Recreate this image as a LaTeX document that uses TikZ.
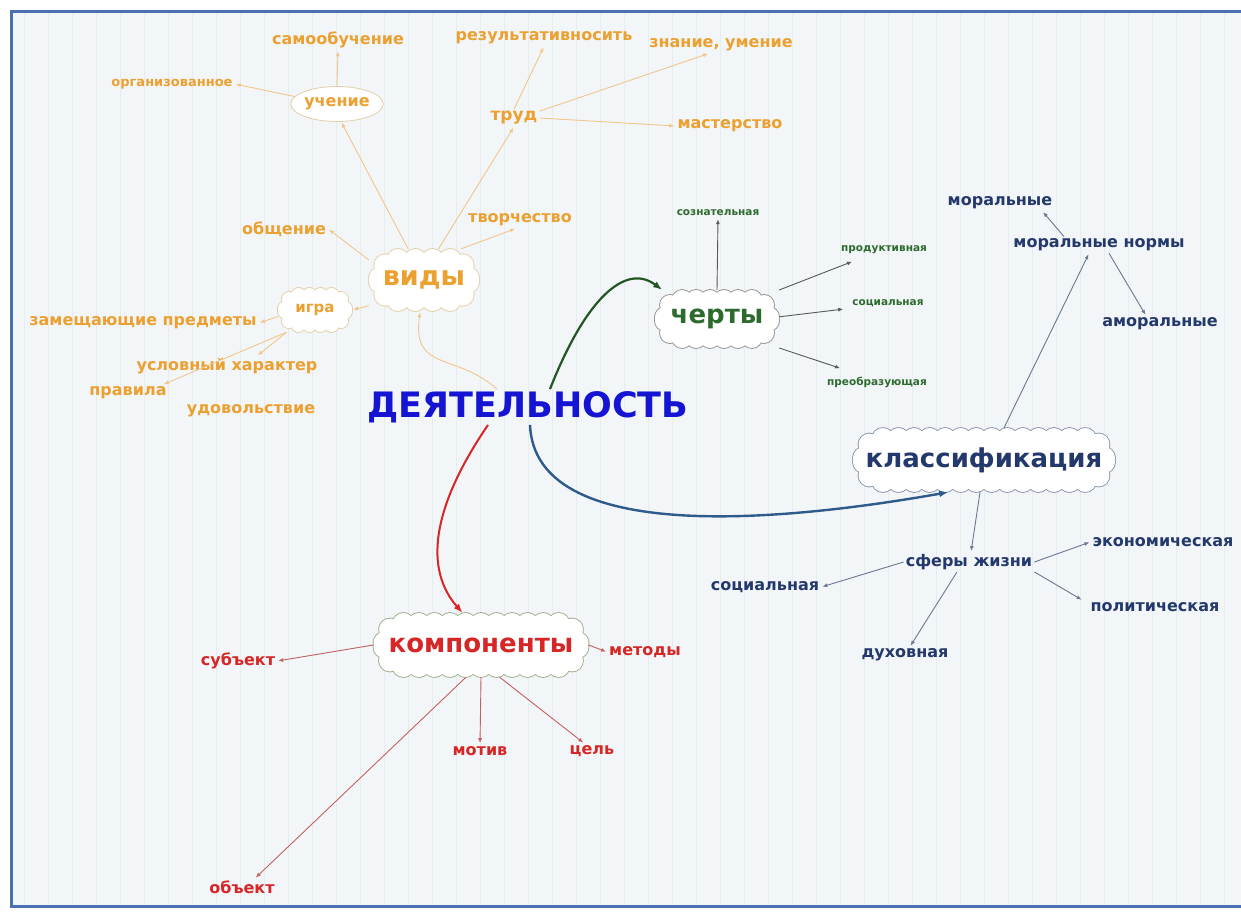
\documentclass[tikz,border=0pt]{standalone}
\usepackage{fontspec}
\setmainfont{DejaVu Sans}
\usetikzlibrary{shapes.geometric,arrows.meta}
\definecolor{bg}{HTML}{F3F6F8}
\definecolor{gridc}{HTML}{E6ECF0}
\definecolor{frame}{HTML}{4A72B0}
\definecolor{org}{HTML}{EBA030}
\definecolor{orgline}{HTML}{F2C58A}
\definecolor{orgcl}{HTML}{E2CFA6}
\definecolor{actc}{HTML}{1414D2}
\definecolor{grn}{HTML}{2D6A2D}
\definecolor{grnline}{HTML}{555A55}
\definecolor{nav}{HTML}{24396B}
\definecolor{navline}{HTML}{6A7890}
\definecolor{navcl}{HTML}{8A96AA}
\definecolor{rd}{HTML}{D62626}
\definecolor{rdline}{HTML}{C46060}
\definecolor{kompcl}{HTML}{9FAE8E}
\definecolor{bluearr}{HTML}{2E5A8C}
% one pass of puff circles along a rounded rectangle
\newcommand\scpass[1]{%
  \foreach \i in {0,...,\scnx}{%
    \pgfmathsetmacro\xx{-\sca+\scr+(2*\sca-2*\scr)*\i/\scnx}%
    \path[#1] (\xx,-\scb) circle (\scrad pt) (\xx,\scb) circle (\scrad pt);}%
  \foreach \j in {0,...,\scny}{%
    \pgfmathsetmacro\yy{-\scb+\scr+(2*\scb-2*\scr)*\j/\scny}%
    \path[#1] (-\sca,\yy) circle (\scrad pt) (\sca,\yy) circle (\scrad pt);}%
  \foreach \q/\sx/\sy in {0/1/1,90/-1/1,180/-1/-1,270/1/-1}{%
    \foreach \k in {1,...,\scnc}{%
      \pgfmathsetmacro\th{\q+90*\k/(\scnc+1)}%
      \pgfmathsetmacro\xx{\sx*(\sca-\scr)+\scr*cos(\th)}%
      \pgfmathsetmacro\yy{\sy*(\scb-\scr)+\scr*sin(\th)}%
      \path[#1] (\xx,\yy) circle (\scrad pt);}}%
}
% scalloped cloud: centre x, centre y, width, height, outline colour, puff radius
\newcommand\scloud[6]{%
 \begin{scope}[shift={(#1,#2)}]
  \pgfmathsetmacro\scrad{#6}%
  \pgfmathsetmacro\sca{#3/2-#6}%
  \pgfmathsetmacro\scb{#4/2-#6}%
  \pgfmathsetmacro\scr{0.9*\scb}%
  \pgfmathtruncatemacro\scnx{max(1,round((2*\sca-2*\scr)/(1.45*#6)))}%
  \pgfmathtruncatemacro\scny{max(1,round((2*\scb-2*\scr)/(1.45*#6)))}%
  \pgfmathtruncatemacro\scnc{max(1,round(1.5708*\scr/(1.45*#6))-1)}%
  \scpass{draw=#5, line width=1.8pt}%
  \scpass{fill=white}%
  \fill[white, rounded corners=\scr pt] (-\sca,-\scb) rectangle (\sca,\scb);
 \end{scope}}
\tikzset{
  cloudtext/.style={rectangle, inner sep=0pt},
  olbl/.style={text=org, font=\bfseries\fontsize{16}{18}\selectfont, inner sep=2pt},
  nlbl/.style={text=nav, font=\bfseries\fontsize{16}{18}\selectfont, inner sep=2pt},
  rlbl/.style={text=rd, font=\bfseries\fontsize{16}{18}\selectfont, inner sep=2pt},
  glbl/.style={text=grn, font=\bfseries\fontsize{10.5}{12}\selectfont, inner sep=2pt},
  tip/.style={-{Latex[length=5pt,width=4pt]}, line width=0.9pt, shorten >=1pt},
  oarr/.style={tip, draw=orgline},
  garr/.style={tip, draw=grnline},
  narr/.style={tip, draw=navline},
  rarr/.style={tip, draw=rdline},
  bigtip/.style={-{Latex[length=9pt,width=7pt]}},
}
\begin{document}
\begin{tikzpicture}[x=1pt,y=-1pt]
\useasboundingbox (0,0) rectangle (1241,912);
\fill[white] (0,0) rectangle (1241,912);
\fill[bg] (12,12) rectangle (1241,906);
\draw[gridc, line width=0.6pt, step=24] (12,12) grid (1241,906);
\draw[frame, line width=3pt] (1241,12) -- (11,12) -- (11,906) -- (1241,906);

% centre
\node[text=actc, font=\bfseries\fontsize{35}{40}\selectfont, inner sep=2pt] (act) at (528,407) {ДЕЯТЕЛЬНОСТЬ};

% ---- виды ----
\scloud{424}{280}{110}{62}{orgcl}{11}
\node[cloudtext, minimum width=110, minimum height=62, text=org, font=\bfseries\fontsize{27}{29}\selectfont] (vidy) at (424,280) {виды};
\scloud{315}{310}{74}{44}{orgcl}{7}
\node[cloudtext, minimum width=74, minimum height=44, text=org, font=\bfseries\fontsize{15}{17}\selectfont] (igra) at (315,310) {игра};
\node[ellipse, draw=orgcl, fill=white, line width=0.8pt, minimum width=87, minimum height=35, inner sep=0pt, text=org, font=\bfseries\fontsize{16}{18}\selectfont] (uch) at (337,104) {учение};
\node[olbl, font=\bfseries\fontsize{17}{19}\selectfont] (trud) at (514,118) {труд};
\node[olbl] (samo) at (338,40) {самообучение};
\node[olbl, font=\bfseries\fontsize{13}{15}\selectfont] (org) at (172,84) {организованное};
\node[olbl] (rez) at (544,38) {результативносить};
\node[olbl] (zn) at (721,45) {знание, умение};
\node[olbl] (mast) at (730,126) {мастерство};
\node[olbl] (obsh) at (284,229) {общение};
\node[olbl] (tvor) at (520,220) {творчество};
\node[olbl] (zam) at (143,323) {замещающие предметы};
\node[olbl] (usl) at (227,366) {условный характер};
\node[olbl] (prav) at (128,393) {правила};
\node[olbl] (udov) at (251,411) {удовольствие};

\draw[oarr] (vidy.117) -- (uch.283);
\draw[oarr] (uch.north) -- (samo.south);
\draw[oarr] (uch.170) -- (org.east);
\draw[oarr] (vidy.65) -- (trud.south);
\draw[oarr] (trud.north) -- (rez.south);
\draw[oarr] (trud.15) -- (zn.215);
\draw[oarr] (trud.east) -- (mast.west);
\draw[oarr] (vidy.160) -- (obsh.east);
\draw[oarr] (vidy.40) -- (tvor.245);
\draw[oarr] (vidy.205) -- (igra.east);
\draw[oarr] (igra.190) -- (zam.east);
\draw[oarr] (igra.218) -- ([xshift=30pt]usl.north);
\draw[oarr] (igra.218) -- ([xshift=-6pt]prav.north east);
\draw[oarr] ([xshift=-31pt]act.north) .. controls (455,352) and (412,372) .. (vidy.263);

% ---- черты ----
\scloud{717}{319}{124}{58}{gray!85}{10}
\node[cloudtext, minimum width=124, minimum height=58, text=grn, font=\bfseries\fontsize{26}{28}\selectfont] (cher) at (717,319) {черты};
\node[glbl] (soz) at (718,213) {сознательная};
\node[glbl] (prod) at (884,250) {продуктивная};
\node[glbl] (soc1) at (888,303) {социальная};
\node[glbl] (preo) at (877,382) {преобразующая};
\draw[garr] (cher.north) -- (soz.south);
\draw[garr] (cher.25) -- ([xshift=14pt,yshift=-5pt]prod.south west);
\draw[garr] (cher.2) -- ([xshift=-6pt,yshift=-6pt]soc1.west);
\draw[garr] (cher.335) -- ([xshift=16pt,yshift=6pt]preo.north west);
\draw[bigtip, draw=grn!80!black, line width=2.2pt] ([xshift=22pt]act.north) .. controls (585,300) and (625,262) .. (cher.152);

% ---- классификация ----
\scloud{984}{460}{262}{64}{navcl}{11}
\node[cloudtext, minimum width=262, minimum height=64, text=nav, font=\bfseries\fontsize{26}{28}\selectfont] (klass) at (984,460) {классификация};
\node[nlbl] (mn) at (1099,245) {моральные нормы};
\node[nlbl] (mor) at (1000,203) {моральные};
\node[nlbl] (amor) at (1160,324) {аморальные};
\node[nlbl] (sf) at (969,562) {сферы жизни};
\node[nlbl] (ek) at (1163,542) {экономическая};
\node[nlbl] (soc2) at (765,587) {социальная};
\node[nlbl] (pol) at (1155,607) {политическая};
\node[nlbl] (duh) at (905,655) {духовная};
\draw[narr] ([xshift=20pt]klass.north) -- ([xshift=-10pt]mn.south);
\draw[narr] ([xshift=-35pt]mn.north) -- ([xshift=-12pt]mor.south east);
\draw[narr] ([xshift=10pt]mn.south) -- ([xshift=-14pt]amor.north);
\draw[narr] ([xshift=-4pt]klass.south) -- ([xshift=2pt]sf.north);
\draw[narr] (sf.east) -- (ek.west);
\draw[narr] (sf.west) -- (soc2.east);
\draw[narr] (sf.south east) -- ([xshift=-6pt]pol.north west);
\draw[narr] ([xshift=-12pt]sf.south) -- ([xshift=5pt]duh.north);
\draw[bigtip, draw=bluearr, line width=2.4pt] ([xshift=2pt]act.south) .. controls (535,545) and (780,522) .. (klass.222);

% ---- компоненты ----
\scloud{481}{645}{215}{64}{kompcl}{11}
\node[cloudtext, minimum width=215, minimum height=64, text=rd, font=\bfseries\fontsize{26}{28}\selectfont] (komp) at (481,645) {компоненты};
\node[rlbl] (subj) at (238,661) {субъект};
\node[rlbl] (met) at (645,652) {методы};
\node[rlbl] (mot) at (480,751) {мотив};
\node[rlbl] (cel) at (592,751) {цель};
\node[rlbl] (obj) at (242,887) {объект};
\draw[rarr] (komp.west) -- (subj.east);
\draw[rarr] (komp.east) -- (met.west);
\draw[rarr] (komp.south) -- (mot.north);
\draw[rarr] (komp.300) -- ([xshift=-8pt]cel.north);
\draw[rarr] (komp.245) -- ([xshift=13pt]obj.north);
\draw[bigtip, draw=rd, line width=2pt] ([xshift=-40pt]act.south) .. controls (430,510) and (425,570) .. (komp.120);
\end{tikzpicture}
\end{document}
